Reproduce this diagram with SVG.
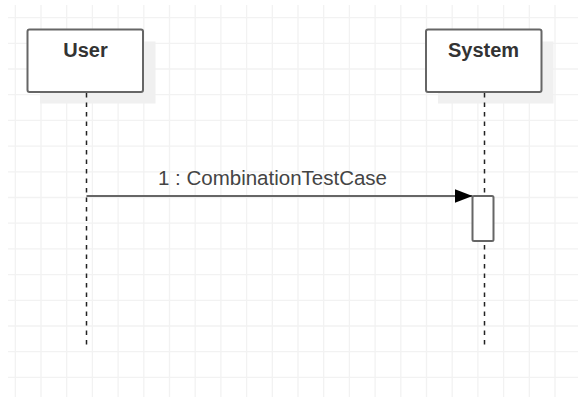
<svg xmlns="http://www.w3.org/2000/svg" width="578" height="397" viewBox="0 0 578 397">
<style>
.grid{stroke:#f2f2f2;stroke-width:1.3;fill:none}
.shadow{fill:#f0f0f0;stroke:none}
.box{fill:#ffffff;stroke:#666666;stroke-width:2}
.title{font-family:"Liberation Sans",Arial,sans-serif;font-weight:bold;font-size:20px;fill:#333333;text-anchor:middle}
.life{stroke:#222222;stroke-width:1.5;stroke-dasharray:4.5 5;fill:none}
.msg{stroke:#666666;stroke-width:2;fill:none}
.lbl{font-family:"Liberation Sans",Arial,sans-serif;font-size:20.5px;fill:#444444}
</style>
<defs>
<marker id="arr" markerUnits="userSpaceOnUse" markerWidth="20" markerHeight="16" refX="18" refY="8" orient="auto">
<path d="M0,1 L18,8 L0,15 Z" fill="#000000"/>
</marker>
</defs>
<g id="grid">
<path class="grid" d="M15.3,5V397M41,5V397M66.7,5V397M92.4,5V397M118.1,5V397M143.8,5V397M169.5,5V397M195.2,5V397M220.9,5V397M246.6,5V397M272.3,5V397M298,5V397M323.7,5V397M349.4,5V397M375.1,5V397M400.8,5V397M426.5,5V397M452.2,5V397M477.9,5V397M503.6,5V397M529.3,5V397M555,5V397
M8,17.6H578M8,43.3H578M8,69H578M8,94.7H578M8,120.4H578M8,146.1H578M8,171.8H578M8,197.5H578M8,223.2H578M8,248.9H578M8,274.6H578M8,300.3H578M8,326H578M8,351.7H578M8,377.4H578"/>
</g>
<g id="user">
<rect class="shadow" x="40" y="41.5" width="115.5" height="62"/>
<rect class="box" x="27.5" y="29.5" width="115.5" height="62.5" rx="2"/>
<text class="title" x="85.5" y="56.5">User</text>
</g>
<g id="system">
<rect class="shadow" x="438" y="41.5" width="115.5" height="62"/>
<rect class="box" x="426" y="29.5" width="115.5" height="62.5" rx="2"/>
<text class="title" x="483.5" y="56.5">System</text>
</g>
<g id="connectors">
<line class="life" x1="86.5" y1="93" x2="86.5" y2="349"/>
<line class="life" x1="484.5" y1="93" x2="484.5" y2="349"/>
<line class="msg" x1="86.5" y1="196" x2="472.5" y2="196" marker-end="url(#arr)"/>
<text class="lbl" x="272.5" y="185" text-anchor="middle">1 : CombinationTestCase</text>
</g>
<g id="activation">
<rect class="box" x="472.5" y="196" width="21" height="45" rx="1.5"/>
</g>
</svg>
